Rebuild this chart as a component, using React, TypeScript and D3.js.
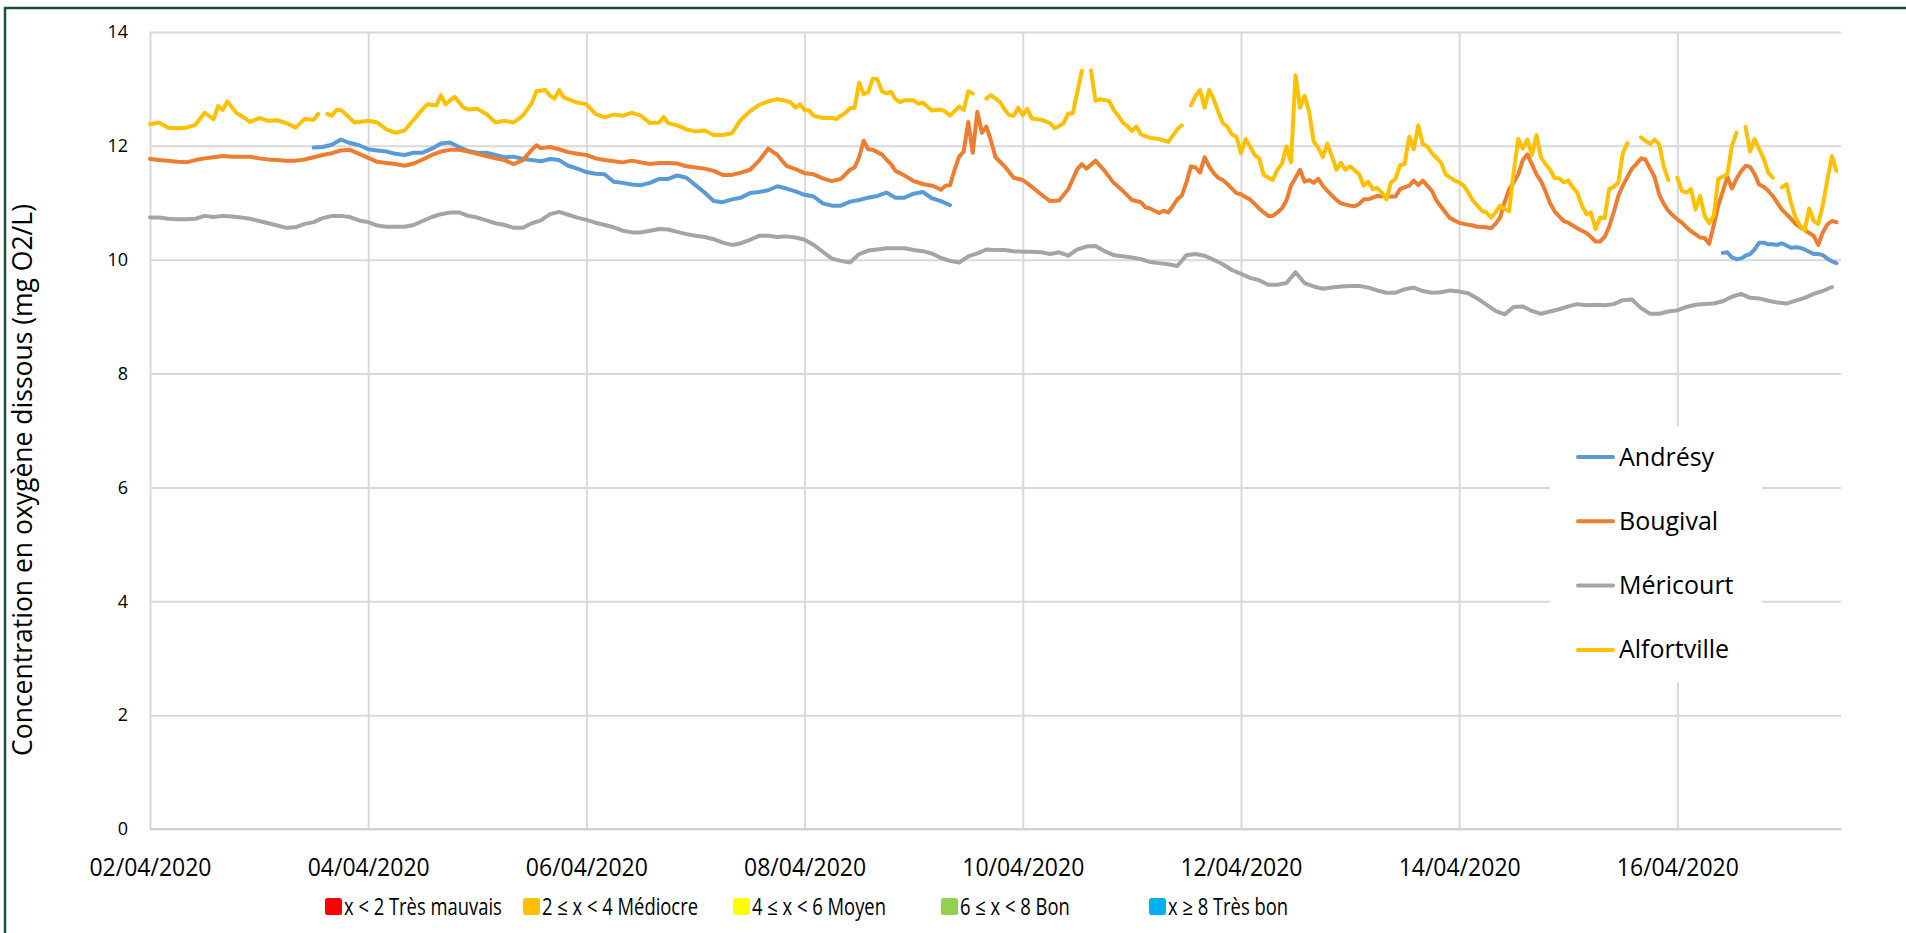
import { useRef, useEffect } from 'react'
import * as d3 from 'd3'

// [hours since 02/04/2020 00:00, dissolved O2 in mg/L]; null = missing measurement
type Pt = [number, number | null]

const START = new Date(2020, 3, 2)
const END_HOURS = 372

const andresy: Pt[] = [
  [36, 11.97], [38, 11.98], [40, 12.02], [42, 12.11], [44, 12.05], [46, 12.01], [48, 11.94], [50, 11.92],
  [52, 11.9], [54, 11.86], [56, 11.84], [58, 11.88], [60, 11.88], [62, 11.95], [64, 12.04], [66, 12.06],
  [68, 11.98], [70, 11.91], [72, 11.88], [74, 11.88], [76, 11.84], [78, 11.8], [80, 11.81], [82, 11.77],
  [84, 11.75], [86, 11.73], [88, 11.77], [90, 11.75], [92, 11.65], [94, 11.6], [96, 11.54], [98, 11.51],
  [100, 11.5], [102, 11.37], [104, 11.35], [106, 11.32], [108, 11.31], [110, 11.35], [112, 11.42], [114, 11.42],
  [116, 11.48], [118, 11.44], [120, 11.31], [122, 11.18], [124, 11.03], [126, 11.01], [128, 11.06], [130, 11.09],
  [132, 11.17], [134, 11.19], [136, 11.22], [138, 11.29], [140, 11.25], [142, 11.2], [144, 11.14], [146, 11.11],
  [148, 10.99], [150, 10.95], [152, 10.95], [154, 11.02], [156, 11.05], [158, 11.09], [160, 11.12], [162, 11.18],
  [164, 11.09], [166, 11.09], [168, 11.16], [170, 11.19], [172, 11.08], [174, 11.03], [176, 10.96], [177, null],
  [346, 10.12], [347, 10.13], [348, 10.04], [349, 10.01], [350, 10.02], [351, 10.07], [352, 10.1], [353, 10.18],
  [354, 10.3], [355, 10.3], [356, 10.27], [357, 10.27], [358, 10.26], [359, 10.29], [360, 10.25], [361, 10.21],
  [362, 10.22], [363, 10.21], [364, 10.18], [365, 10.14], [366, 10.1], [367, 10.1], [368, 10.08], [369, 10.02],
  [370, 9.97], [371, 9.94],
]

const bougival: Pt[] = [
  [0, 11.77], [2, 11.75], [4, 11.74], [6, 11.72], [8, 11.71], [10, 11.75], [12, 11.78], [14, 11.8],
  [16, 11.82], [18, 11.81], [20, 11.81], [22, 11.81], [24, 11.78], [26, 11.76], [28, 11.75], [30, 11.74],
  [32, 11.74], [34, 11.76], [36, 11.8], [38, 11.84], [40, 11.87], [42, 11.92], [44, 11.93], [46, 11.86],
  [48, 11.79], [50, 11.72], [52, 11.7], [54, 11.68], [56, 11.65], [58, 11.69], [60, 11.76], [62, 11.84],
  [64, 11.9], [66, 11.93], [68, 11.93], [70, 11.9], [72, 11.86], [74, 11.82], [76, 11.78], [78, 11.75],
  [80, 11.68], [82, 11.75], [84, 11.93], [85, 12.01], [86, 11.96], [88, 11.98], [90, 11.94], [92, 11.89],
  [94, 11.86], [96, 11.84], [98, 11.78], [100, 11.75], [102, 11.73], [104, 11.71], [106, 11.74], [108, 11.71],
  [110, 11.68], [112, 11.7], [114, 11.7], [116, 11.69], [118, 11.64], [120, 11.62], [122, 11.6], [124, 11.56],
  [126, 11.49], [128, 11.49], [130, 11.53], [132, 11.58], [134, 11.74], [136, 11.95], [138, 11.84], [140, 11.65],
  [142, 11.59], [144, 11.52], [146, 11.5], [148, 11.43], [150, 11.38], [152, 11.42], [154, 11.58], [155, 11.62],
  [156, 11.8], [157, 12.09], [158, 11.94], [159, 11.93], [161, 11.85], [162, 11.76], [163, 11.68], [164, 11.56],
  [166, 11.48], [168, 11.38], [170, 11.33], [172, 11.3], [173, 11.27], [174, 11.23], [175, 11.3], [176, 11.31],
  [177, 11.58], [178, 11.81], [179, 11.9], [180, 12.42], [181, 11.88], [182, 12.6], [183, 12.23], [184, 12.34],
  [185, 12.09], [186, 11.8], [188, 11.64], [190, 11.44], [192, 11.4], [194, 11.28], [196, 11.15], [198, 11.03],
  [200, 11.04], [202, 11.24], [204, 11.59], [205, 11.68], [206, 11.6], [208, 11.74], [210, 11.56], [212, 11.35],
  [214, 11.21], [216, 11.05], [218, 11.01], [219, 10.92], [220, 10.9], [221, 10.86], [222, 10.82], [223, 10.86],
  [224, 10.83], [225, 10.94], [226, 11.06], [227, 11.13], [228, 11.36], [229, 11.64], [230, 11.62], [231, 11.53],
  [232, 11.8], [233, 11.64], [234, 11.52], [235, 11.44], [236, 11.4], [237, 11.33], [238, 11.25], [239, 11.17],
  [240, 11.15], [241, 11.1], [242, 11.06], [243, 10.98], [244, 10.9], [245, 10.83], [246, 10.77], [247, 10.77],
  [248, 10.83], [249, 10.9], [250, 11.04], [251, 11.3], [253, 11.58], [254, 11.37], [255, 11.4], [256, 11.35],
  [257, 11.42], [258, 11.3], [259, 11.21], [260, 11.13], [261, 11.05], [262, 10.99], [264, 10.95], [265, 10.94],
  [266, 10.98], [267, 11.06], [268, 11.06], [269, 11.09], [270, 11.12], [272, 11.11], [274, 11.11], [275, 11.24],
  [277, 11.3], [278, 11.39], [279, 11.31], [280, 11.39], [282, 11.21], [283, 11.04], [285, 10.83], [286, 10.73],
  [288, 10.65], [289, 10.63], [291, 10.6], [292, 10.58], [294, 10.57], [295, 10.55], [296, 10.63], [297, 10.74],
  [298, 11.01], [299, 11.24], [300, 11.36], [301, 11.5], [302, 11.75], [303, 11.85], [304, 11.68], [305, 11.5],
  [306, 11.38], [307, 11.2], [308, 10.99], [309, 10.85], [310, 10.76], [311, 10.68], [312, 10.65], [313, 10.6],
  [314, 10.55], [315, 10.51], [316, 10.47], [317, 10.4], [318, 10.32], [319, 10.32], [320, 10.4], [321, 10.58],
  [322, 10.83], [323, 11.12], [324, 11.3], [325, 11.45], [326, 11.6], [327, 11.68], [328, 11.78], [329, 11.76],
  [330, 11.6], [331, 11.45], [332, 11.15], [333, 10.98], [334, 10.86], [335, 10.78], [336, 10.71], [337, 10.65],
  [338, 10.57], [339, 10.5], [340, 10.45], [341, 10.39], [342, 10.38], [343, 10.28], [344, 10.6], [345, 10.95],
  [346, 11.2], [347, 11.46], [348, 11.25], [349, 11.42], [350, 11.55], [351, 11.65], [352, 11.63], [353, 11.5],
  [354, 11.32], [355, 11.28], [356, 11.21], [357, 11.12], [358, 11.0], [359, 10.88], [360, 10.8], [361, 10.72],
  [362, 10.63], [363, 10.57], [364, 10.52], [365, 10.47], [366, 10.42], [367, 10.26], [368, 10.48], [369, 10.62],
  [370, 10.68], [371, 10.66],
]

// Méricourt: one reading every 2 hours from 02/04/2020 00:00
const mericourtValues: number[] = [
  10.74, 10.74, 10.72, 10.71, 10.71, 10.72, 10.77, 10.75, 10.77, 10.76, 10.74, 10.72, 10.68, 10.64, 10.6, 10.56,
  10.57, 10.63, 10.66, 10.73, 10.77, 10.77, 10.75, 10.69, 10.66, 10.6, 10.58, 10.58, 10.58, 10.61, 10.68, 10.75,
  10.8, 10.83, 10.83, 10.77, 10.74, 10.69, 10.64, 10.61, 10.56, 10.56, 10.64, 10.69, 10.8, 10.84, 10.79, 10.74,
  10.7, 10.65, 10.61, 10.57, 10.51, 10.48, 10.48, 10.51, 10.54, 10.53, 10.49, 10.45, 10.42, 10.4, 10.36, 10.3,
  10.26, 10.29, 10.35, 10.42, 10.42, 10.4, 10.41, 10.39, 10.35, 10.26, 10.14, 10.02, 9.98, 9.95, 10.1, 10.16,
  10.18, 10.2, 10.2, 10.2, 10.17, 10.15, 10.11, 10.03, 9.98, 9.95, 10.06, 10.11, 10.18, 10.17, 10.17, 10.15,
  10.14, 10.14, 10.13, 10.1, 10.13, 10.07, 10.18, 10.23, 10.24, 10.15, 10.08, 10.06, 10.04, 10.01, 9.96, 9.94,
  9.92, 9.89, 10.08, 10.1, 10.07, 10.0, 9.92, 9.82, 9.75, 9.68, 9.64, 9.56, 9.56, 9.59, 9.78, 9.59,
  9.53, 9.49, 9.51, 9.53, 9.54, 9.54, 9.51, 9.46, 9.42, 9.42, 9.48, 9.51, 9.45, 9.42, 9.43, 9.46,
  9.44, 9.41, 9.32, 9.21, 9.1, 9.04, 9.17, 9.18, 9.1, 9.05, 9.09, 9.13, 9.18, 9.22, 9.2, 9.21,
  9.2, 9.22, 9.29, 9.3, 9.15, 9.05, 9.05, 9.09, 9.11, 9.17, 9.21, 9.22, 9.23, 9.27, 9.35, 9.4,
  9.33, 9.32, 9.28, 9.25, 9.23, 9.28, 9.33, 9.4, 9.45, 9.52,
]

const alfortville: Pt[] = [
  [0, 12.38], [2, 12.41], [4, 12.32], [6, 12.31], [8, 12.32], [10, 12.37], [12, 12.58], [14, 12.47],
  [15, 12.7], [16, 12.63], [17, 12.78], [19, 12.58], [20, 12.53], [22, 12.42], [24, 12.49], [26, 12.44],
  [28, 12.45], [30, 12.4], [32, 12.32], [34, 12.47], [36, 12.46], [37, 12.56], [38, null], [39, 12.56],
  [40, 12.53], [41, 12.63], [42, 12.63], [43, 12.56], [45, 12.41], [48, 12.44], [50, 12.41], [52, 12.29],
  [54, 12.23], [56, 12.27], [58, 12.46], [60, 12.65], [61, 12.73], [63, 12.71], [64, 12.89], [65, 12.73],
  [67, 12.86], [69, 12.67], [70, 12.64], [72, 12.65], [74, 12.56], [76, 12.41], [78, 12.44], [80, 12.41],
  [82, 12.53], [84, 12.75], [85, 12.96], [87, 12.98], [88, 12.88], [89, 12.83], [90, 12.98], [91, 12.85],
  [94, 12.76], [96, 12.73], [98, 12.56], [100, 12.5], [102, 12.55], [104, 12.53], [106, 12.58], [108, 12.53],
  [110, 12.4], [112, 12.41], [113, 12.51], [114, 12.4], [116, 12.36], [118, 12.29], [120, 12.25], [122, 12.27],
  [124, 12.19], [126, 12.19], [128, 12.22], [130, 12.46], [132, 12.61], [134, 12.72], [136, 12.78], [138, 12.82],
  [140, 12.79], [141, 12.76], [142, 12.67], [143, 12.73], [144, 12.63], [145, 12.62], [146, 12.53], [148, 12.49],
  [150, 12.49], [151, 12.47], [152, 12.53], [153, 12.58], [154, 12.66], [155, 12.67], [156, 13.11], [157, 12.91],
  [158, 12.94], [159, 13.18], [160, 13.17], [161, 12.96], [162, 12.92], [163, 12.95], [164, 12.82], [165, 12.77],
  [166, 12.8], [168, 12.8], [169, 12.74], [170, 12.76], [172, 12.62], [174, 12.64], [175, 12.6], [176, 12.53],
  [177, 12.61], [178, 12.69], [179, 12.63], [180, 12.96], [181, 12.92], [182, null], [184, 12.83], [185, 12.89],
  [187, 12.77], [188, 12.64], [189, 12.54], [190, 12.53], [191, 12.67], [192, 12.54], [193, 12.65], [194, 12.48],
  [196, 12.46], [197, 12.43], [198, 12.4], [199, 12.31], [200, 12.35], [201, 12.4], [202, 12.57], [203, 12.57],
  [205, 13.32], [206, null], [207, 13.33], [208, 12.79], [209, 12.82], [211, 12.79], [212, 12.63], [213, 12.53],
  [214, 12.41], [215, 12.35], [216, 12.26], [217, 12.34], [218, 12.2], [220, 12.14], [222, 12.12], [224, 12.07],
  [226, 12.29], [227, 12.36], [228, null], [229, 12.71], [230, 12.88], [231, 12.98], [232, 12.67], [233, 12.98],
  [234, 12.82], [235, 12.6], [236, 12.4], [237, 12.34], [238, 12.2], [239, 12.16], [240, 11.87], [241, 12.12],
  [242, 11.99], [243, 11.84], [244, 11.78], [245, 11.49], [247, 11.4], [248, 11.58], [249, 11.68], [250, 11.99],
  [251, 11.71], [252, 13.24], [253, 12.67], [254, 12.88], [255, 12.6], [256, 12.07], [257, 11.97], [258, 11.8],
  [259, 12.04], [260, 11.82], [261, 11.58], [262, 11.7], [263, 11.58], [264, 11.64], [266, 11.5], [267, 11.3],
  [268, 11.37], [269, 11.24], [270, 11.26], [271, 11.18], [272, 11.06], [273, 11.36], [274, 11.42], [275, 11.66],
  [276, 11.68], [277, 12.16], [278, 11.94], [279, 12.36], [280, 12.03], [281, 11.99], [282, 11.87], [284, 11.71],
  [285, 11.5], [287, 11.39], [288, 11.36], [289, 11.3], [290, 11.18], [291, 11.04], [292, 10.95], [293, 10.86],
  [294, 10.83], [295, 10.74], [296, 10.83], [297, 10.95], [298, 10.89], [299, 10.85], [300, 11.55], [301, 12.12],
  [302, 11.95], [303, 12.11], [304, 11.84], [305, 12.19], [306, 11.8], [307, 11.68], [308, 11.58], [309, 11.43],
  [310, 11.43], [311, 11.36], [312, 11.39], [313, 11.27], [314, 11.18], [315, 10.95], [316, 10.8], [317, 10.83],
  [318, 10.54], [319, 10.74], [320, 10.73], [321, 11.24], [322, 11.28], [323, 11.35], [324, 11.87], [325, 12.05],
  [326, null], [328, 12.15], [330, 12.03], [331, 12.11], [332, 12.03], [333, 11.64], [334, 11.4], [335, null],
  [336, 11.44], [337, 11.21], [338, 11.18], [339, 11.24], [340, 10.88], [341, 11.12], [342, 10.77], [343, 10.64],
  [344, 10.77], [345, 11.42], [346, 11.46], [347, 11.5], [348, 12.0], [349, 12.23], [350, null], [351, 12.33],
  [352, 11.9], [353, 12.12], [355, 11.77], [356, 11.53], [357, 11.44], [358, null], [359, 11.27], [360, 11.33],
  [361, 11.0], [362, 10.74], [363, 10.6], [364, 10.51], [365, 10.9], [366, 10.68], [367, 10.63], [368, 10.96],
  [369, 11.4], [370, 11.82], [371, 11.56],
]

const seriesNames = ['Andrésy', 'Bougival', 'Méricourt', 'Alfortville']
const seriesColors = ['#5B9BD5', '#ED7D31', '#A5A5A5', '#FFC000']

const yTicks = [0, 2, 4, 6, 8, 10, 12, 14]
const xTickDays = [0, 2, 4, 6, 8, 10, 12, 14]
const yTitle = 'Concentration en oxygène dissous (mg O2/L)'

const classLabels = ['x < 2 Très mauvais', '2 ≤ x < 4 Médiocre', '4 ≤ x < 6 Moyen', '6 ≤ x < 8 Bon', 'x ≥ 8 Très bon']
const classColors = ['#FF0000', '#FFC000', '#FFFF00', '#92D050', '#00B0F0']
const classX = [325, 523, 733, 941, 1149]

const W = 1906
const H = 933
const FONT = '"Open Sans", "Noto Sans", sans-serif'

const hoursToDate = (h: number) => new Date(START.getTime() + h * 3600 * 1000)

const App = () => {
  const svgRef = useRef<SVGSVGElement>(null)

  useEffect(() => {
    if (!svgRef.current) return
    const svg = d3.select(svgRef.current)
    svg.selectAll('*').remove()

    const plot = { left: 150, right: 1841, top: 32, bottom: 829 }

    const x = d3
      .scaleTime()
      .domain([START, hoursToDate(END_HOURS)])
      .range([plot.left, plot.right])
    const y = d3.scaleLinear().domain([0, 14]).range([plot.bottom, plot.top])

    // outer frame
    svg.append('rect')
      .attr('x', 5)
      .attr('y', 8)
      .attr('width', W + 20)
      .attr('height', H + 20)
      .attr('fill', 'white')
      .attr('stroke', '#1d4f3c')
      .attr('stroke-width', 2.5)

    // horizontal grid + y labels
    const yAxis = svg.append('g')
      .attr('transform', `translate(${plot.left},0)`)
      .call(
        d3.axisLeft(y)
          .tickValues(yTicks)
          .tickSize(-(plot.right - plot.left))
          .tickPadding(22)
          .tickFormat(d3.format('d'))
      )
    yAxis.select('.domain').remove()
    yAxis.selectAll('line').attr('stroke', '#D9D9D9').attr('stroke-width', 2)
    yAxis.selectAll('text')
      .attr('fill', '#000')
      .style('font-family', FONT)
      .style('font-size', '18px')

    // vertical grid + date labels
    const xAxis = svg.append('g')
      .attr('transform', `translate(0,${plot.bottom})`)
      .call(
        d3.axisBottom(x)
          .tickValues(xTickDays.map((d) => hoursToDate(d * 24)))
          .tickSize(-(plot.bottom - plot.top))
          .tickFormat((d) => d3.timeFormat('%d/%m/%Y')(d as Date))
      )
    xAxis.select('.domain').remove()
    xAxis.selectAll('line').attr('stroke', '#D9D9D9').attr('stroke-width', 2)
    xAxis.selectAll('text')
      .attr('y', 47)
      .attr('dy', null)
      .attr('transform', 'scale(0.92,1)')
      .attr('fill', '#000')
      .style('font-family', FONT)
      .style('font-size', '25px')

    // baseline
    svg.append('line')
      .attr('x1', plot.left)
      .attr('x2', plot.right)
      .attr('y1', y(0))
      .attr('y2', y(0))
      .attr('stroke', '#D0D0D0')
      .attr('stroke-width', 2)

    // y title
    svg.append('text')
      .attr('transform', `translate(32,480) rotate(-90)`)
      .attr('text-anchor', 'middle')
      .attr('fill', '#000')
      .style('font-family', FONT)
      .style('font-size', '26.5px')
      .text(yTitle)

    // series
    const mericourt: Pt[] = mericourtValues.map((v, i) => [i * 2, v])
    const allSeries = [andresy, bougival, mericourt, alfortville]

    const line = d3.line<Pt>()
      .defined((d) => d[1] !== null)
      .x((d) => x(hoursToDate(d[0])))
      .y((d) => y(d[1] as number))

    allSeries.forEach((data, i) => {
      svg.append('path')
        .datum(data)
        .attr('fill', 'none')
        .attr('stroke', seriesColors[i])
        .attr('stroke-width', 4)
        .attr('stroke-linejoin', 'round')
        .attr('stroke-linecap', 'round')
        .attr('d', line)
    })

    // series legend (white box over the grid)
    const legend = svg.append('g').attr('transform', 'translate(1550,426)')
    legend.append('rect')
      .attr('width', 212)
      .attr('height', 256)
      .attr('fill', 'white')
    seriesNames.forEach((name, i) => {
      const cy = 31 + i * 64.3
      legend.append('line')
        .attr('x1', 28)
        .attr('x2', 63)
        .attr('y1', cy)
        .attr('y2', cy)
        .attr('stroke', seriesColors[i])
        .attr('stroke-width', 4)
        .attr('stroke-linecap', 'round')
      legend.append('text')
        .attr('x', 69)
        .attr('y', cy + 8.5)
        .attr('fill', '#000')
        .style('font-family', FONT)
        .style('font-size', '25px')
        .text(name)
    })

    // quality-class legend (narrow face, like the original)
    const classes = svg.append('g')
    classLabels.forEach((label, i) => {
      classes.append('rect')
        .attr('x', classX[i])
        .attr('y', 898)
        .attr('width', 17)
        .attr('height', 17)
        .attr('rx', 2.5)
        .attr('fill', classColors[i])
      classes.append('text')
        .attr('transform', `translate(${classX[i] + 19},915) scale(0.8,1)`)
        .attr('fill', '#000')
        .style('font-family', FONT)
        .style('font-size', '23px')
        .text(label)
    })
  }, [])

  return (
    <svg
      ref={svgRef}
      width={W}
      height={H}
      style={{ position: 'absolute', left: 0, top: 0, display: 'block', background: 'white' }}
    />
  )
}

export default App
